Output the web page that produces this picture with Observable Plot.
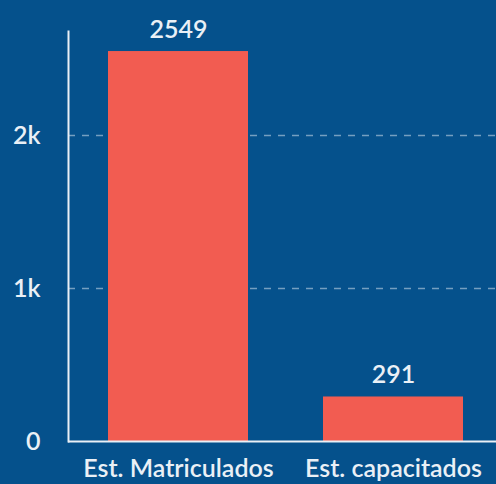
<!DOCTYPE html>
<html>
<head>
<meta charset="utf-8">
<script src="https://cdn.jsdelivr.net/npm/d3@7"></script>
<script src="https://cdn.jsdelivr.net/npm/@observablehq/plot@0.6"></script>
<style>
  html, body { margin: 0; padding: 0; background: #05518c; }
  #chart svg { display: block; }
</style>
</head>
<body>
<div id="chart"></div>
<script>
const categories = ["Est. Matriculados", "Est. capacitados"];
const values = [2549, 291];
const yTicks = [0, 1000, 2000];
const yTickLabels = ["0", "1k", "2k"];

const data = categories.map((c, i) => ({category: c, value: values[i]}));
const fg = "#eaf0f6";
const font = "Lato, 'Open Sans', sans-serif";

const chart = Plot.plot({
  width: 496,
  height: 484,
  marginLeft: 68,
  marginRight: 0,
  marginTop: 31,
  marginBottom: 43,
  style: {background: "#05518c", color: fg, fontFamily: font, fontSize: "25px", fontWeight: 600},
  x: {domain: categories, paddingInner: 0.35, paddingOuter: 0.17, align: 0.55, label: null},
  y: {domain: [0, 2680], label: null},
  marks: [
    Plot.gridY([1000, 2000], {stroke: "#ffffff", strokeOpacity: 0.45, strokeDasharray: "7,7", strokeWidth: 1.5}),
    Plot.barY(data, {x: "category", y: "value", fill: "#f25c51"}),
    Plot.text(data, {x: "category", y: "value", text: d => String(d.value), dy: -22, fill: fg, fontSize: 25, fontWeight: 600}),
    Plot.axisY({ticks: yTicks, tickFormat: (d, i) => yTickLabels[yTicks.indexOf(d)], tickSize: 0, tickPadding: 28, fontSize: 25, fill: fg}),
    Plot.axisX({tickSize: 0, tickPadding: 18, fontSize: 25, fill: fg}),
    Plot.ruleY([0], {stroke: fg, strokeWidth: 2}),
    Plot.frame({anchor: "left", stroke: fg, strokeWidth: 2})
  ]
});
document.getElementById("chart").appendChild(chart);
</script>
</body>
</html>
